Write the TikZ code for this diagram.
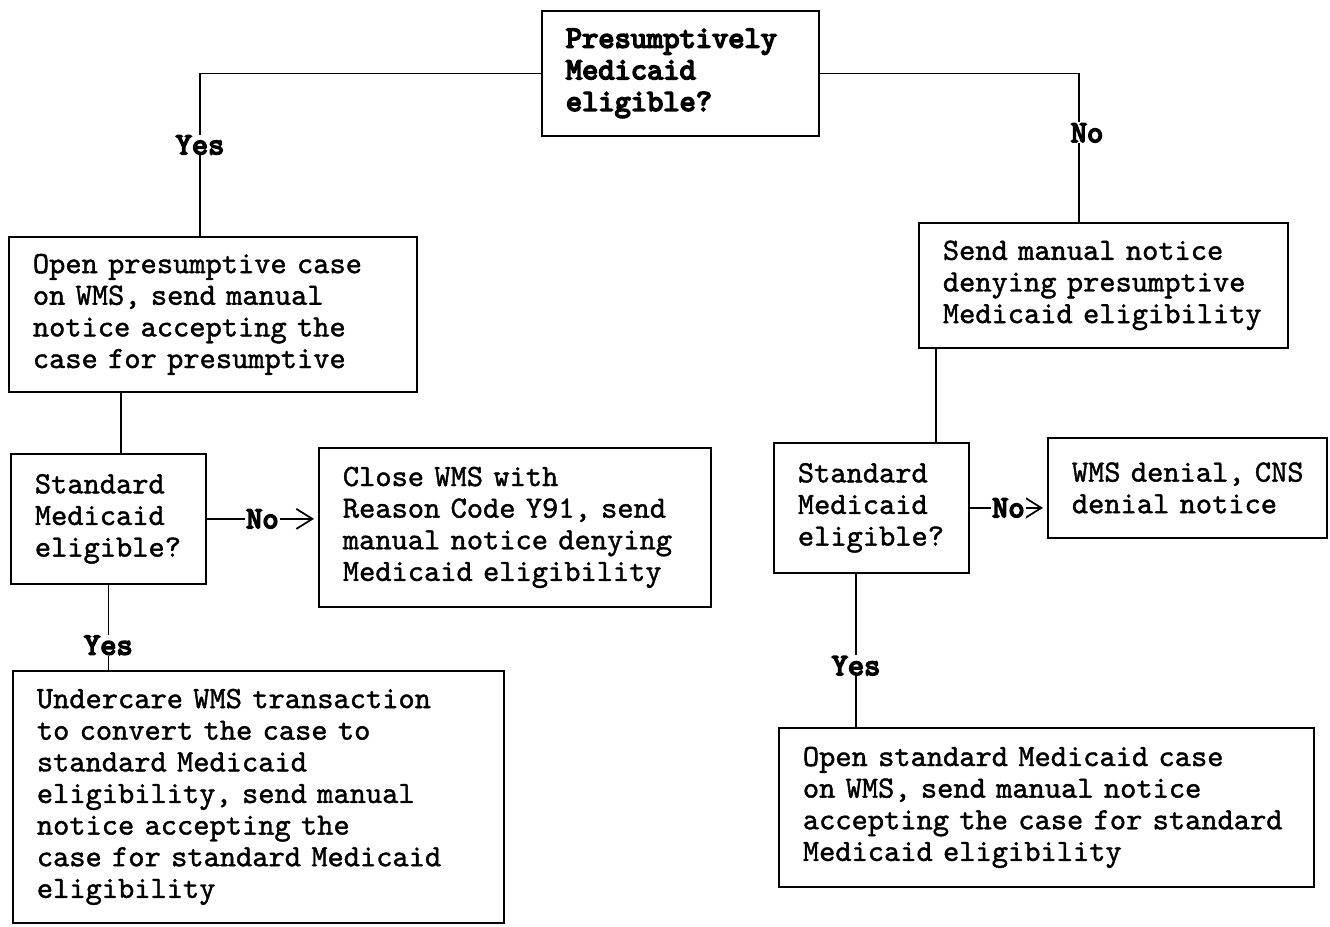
\documentclass[tikz,border=0pt]{standalone}
\usepackage{fontspec}
\usepackage{tikz}
\usetikzlibrary{arrows.meta,calc}
\newfontfamily\boxfont{lmmono10-regular}[Extension=.otf, FakeBold=1.3]
\newfontfamily\lblfont{lmmono10-regular}[Extension=.otf, FakeBold=5]
\newcommand\boxtext{\boxfont\fontsize{17.6pt}{18pt}\selectfont}
\newcommand\lbltext{\lblfont\fontsize{17.6pt}{18pt}\selectfont}
\hfuzz=30pt

\begin{document}
\begin{tikzpicture}[
    x=0.2mm, y=-0.2mm,
    box/.style={draw, line width=1pt, anchor=north west, inner xsep=4.8mm, inner ysep=0pt, align=left, font=\boxtext},
    lbl/.style={font=\lbltext, fill=white, inner sep=0.5pt},
    link/.style={line width=1pt},
    noarrow/.style={link, -{Straight Barb[length=3.2mm,width=4mm]}, shorten >=0.8mm},
]
    \useasboundingbox (0,0) rectangle (1330,926);

    % Question at the top
    \node[box, text width=45.8mm, minimum height=25mm, font=\lbltext] (presum) at (541,10) {Presumptively\\Medicaid\\eligible?};

    % Left branch
    \node[box, text width=72mm, minimum height=31mm] (openpre) at (8,236) {Open presumptive case\\on WMS, send manual\\notice accepting the\\case for presumptive};
    \node[box, text width=29.4mm, minimum height=26mm] (stdleft) at (10,453) {Standard\\Medicaid\\eligible?};
    \node[box, text width=68.8mm, minimum height=31.8mm] (closewms) at (318,447) {Close WMS with\\Reason Code Y91, send\\manual notice denying\\Medicaid eligibility};
    \node[box, text width=88.6mm, minimum height=50.4mm] (undercare) at (12,670) {Undercare WMS transaction\\to convert the case to\\standard Medicaid\\eligibility, send manual\\notice accepting the\\case for standard Medicaid\\eligibility};

    % Right branch
    \node[box, text width=64.2mm, minimum height=25mm] (denypre) at (918,222) {Send manual notice\\denying presumptive\\Medicaid eligibility};
    \node[box, text width=29.4mm, minimum height=26mm] (stdright) at (773,442) {Standard\\Medicaid\\eligible?};
    \node[box, text width=46.2mm, minimum height=20mm] (cnsdeny) at (1047,437) {\mbox{WMS denial, CNS}\\denial notice};
    \node[box, text width=97.4mm, minimum height=31.8mm] (openstd) at (778,727) {Open standard Medicaid case\\on WMS, send manual notice\\\mbox{accepting the case for standard}\\Medicaid eligibility};

    % Connectors
    \draw[link] (presum.west) -| node[lbl, pos=0.72] {Yes} ($(openpre.north west)+(192,0)$);
    \draw[link] (presum.east) -| node[lbl, pos=0.7, xshift=1.6mm] {No} ($(denypre.north west)+(161,0)$);

    \draw[link] ($(openpre.south west)+(113,0)$) coordinate (openpreout) -- (openpreout |- stdleft.north);
    \draw[noarrow] (stdleft.east) -- node[lbl] {No} (stdleft.east -| closewms.west);
    \draw[link] (stdleft.south) -- node[lbl, pos=0.71] {Yes} (stdleft.south |- undercare.north);

    \draw[link] ($(denypre.south west)+(18,0)$) coordinate (denypreout) -- (denypreout |- stdright.north);
    \draw[noarrow] (stdright.east) -- node[lbl] {No} (stdright.east -| cnsdeny.west);
    \draw[link] ($(stdright.south west)+(83,0)$) coordinate (stdrightout) -- node[lbl, pos=0.6] {Yes} (stdrightout |- openstd.north);
\end{tikzpicture}
\end{document}
